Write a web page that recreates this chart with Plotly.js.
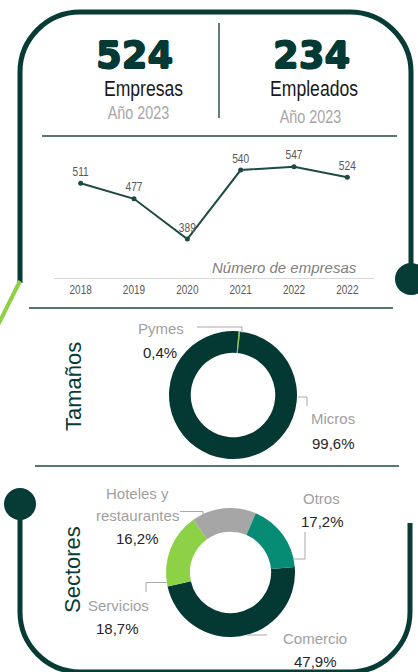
<!DOCTYPE html>
<html>
<head>
<meta charset="utf-8">
<script src="https://cdn.plot.ly/plotly-3.0.1.min.js"></script>
<style>html,body{margin:0;padding:0;background:#fff;}#chart{width:418px;height:672px;}</style>
</head>
<body>
<div id="chart"></div>
<script>
// ---- data ----
const kpiValues = ["524", "234"];
const kpiNames = ["Empresas", "Empleados"];
const kpiYear = "Año 2023";

const years = ["2018", "2019", "2020", "2021", "2022", "2022"];
const empresas = [511, 477, 389, 540, 547, 524];
const lineTitle = "Número de empresas";

const tamanosTitle = "Tamaños";
const tamanosLabels = ["Pymes", "Micros"];
const tamanosValues = [0.4, 99.6];

const sectoresTitle = "Sectores";
const sectoresLabels = ["Comercio", "Servicios", "Hoteles y restaurantes", "Otros"];
const sectoresValues = [47.9, 18.7, 16.2, 17.2];

// ---- styles ----
const DARK = "#063b36";
const LINE = "#1f4a44";
const GREEN = "#8cd146";
const TEAL = "#068b75";
const GREY = "#a6a6a6";
const SANS = "Liberation Sans, Arial, sans-serif";

const W = 418, H = 672;
const px = v => v / W, py = v => 1 - v / H;
const pct = v => v.toFixed(1).replace(".", ",") + "%";

const traces = [
  {
    type: "scatter", mode: "lines+markers+text",
    x: empresas.map((_, i) => i), y: empresas,
    text: empresas.map(String), textposition: "top center",
    textfont: {family: SANS, size: 13, color: "#595959"},
    line: {color: LINE, width: 2}, marker: {color: LINE, size: 5},
    hoverinfo: "skip", showlegend: false, xaxis: "x", yaxis: "y", cliponaxis: false
  },
  {
    type: "pie", labels: tamanosLabels, values: tamanosValues,
    hole: 0.66, sort: false, direction: "clockwise", rotation: 5,
    marker: {colors: [GREEN, "#043832"], line: {width: 0}},
    textinfo: "none", hoverinfo: "skip", showlegend: false,
    domain: {x: [px(169), px(297)], y: [py(459), py(331)]}
  },
  {
    type: "pie", labels: sectoresLabels, values: sectoresValues,
    hole: 0.63, sort: false, direction: "clockwise", rotation: 85,
    marker: {colors: ["#043832", GREEN, GREY, TEAL], line: {width: 0}},
    textinfo: "none", hoverinfo: "skip", showlegend: false,
    domain: {x: [px(166), px(295)], y: [py(637), py(508)]}
  }
];

const frame = (d, w) => ({type: "path", xref: "x2", yref: "y2", path: d, line: {color: DARK, width: w}, layer: "above"});
const hline = (x0, x1, y) => ({type: "line", xref: "x2", yref: "y2", x0, x1, y0: y, y1: y, line: {color: LINE, width: 1.3}});
const lead = d => ({type: "path", xref: "x2", yref: "y2", path: d, line: {color: "#a9a9a9", width: 1}});
const dot = (cx, cy, r) => ({type: "circle", xref: "x2", yref: "y2", x0: cx - r, x1: cx + r, y0: cy - r, y1: cy + r, fillcolor: DARK, line: {width: 0}});

const shapes = [
  frame("M20,283 L20,72 C20,39 47,12 80,12 L350,12 C383,12 411,39 411,72 L411,270", 5),
  {type: "line", xref: "x2", yref: "y2", x0: 20, y0: 281, x1: -2, y1: 325, line: {color: GREEN, width: 4}},
  dot(411, 279, 16),
  frame("M20,505 L20,612 C20,645 47,672 80,672 L350,672 C383,672 410,645 410,612 L410,523", 5),
  dot(20, 504, 16),
  {type: "line", xref: "x2", yref: "y2", x0: 219, x1: 219, y0: 23, y1: 118, line: {color: DARK, width: 1.3}},
  hline(42, 397, 136), hline(29, 393, 308), hline(35, 399, 466),
  lead("M197,327 L242,327 L242,333"),
  lead("M298,397 L307,397 L307,406"),
  lead("M180,511.5 L203,511.5 L203,515"),
  lead("M293,559 L305,559 L305,532"),
  lead("M167,582.5 L146,582.5 L146,592"),
  lead("M247,635 L267,635")
];

const ann = (text, x, y, font, extra) => Object.assign({text, x, y, xref: "x2", yref: "y2", showarrow: false, xanchor: "center", yanchor: "middle", font}, extra || {});
const bigFont = {family: "DejaVu Sans, sans-serif", size: 37, color: "#053a34", weight: 900,
                 shadow: "0.7px 0 0 #053a34, -0.7px 0 0 #053a34, 0 0.7px 0 #053a34, 0 -0.7px 0 #053a34"};
const nameFont = {family: SANS, size: 22, color: "#1a1a1a"};
const yearFont = {family: SANS, size: 18, color: GREY};
const lblName = {family: SANS, size: 15, color: "#a0a0a0"};
const lblPct = {family: SANS, size: 15, color: "#262626"};
const vTitle = {family: SANS, size: 22, color: DARK};

const annotations = [
  ann("<b>" + kpiValues[0] + "</b>", 134, 55, bigFont),
  ann("<b>" + kpiValues[1] + "</b>", 311.5, 55, bigFont),
  ann(kpiNames[0], 143, 88, nameFont),
  ann(kpiNames[1], 314, 88, nameFont),
  ann(kpiYear, 138.5, 113, yearFont),
  ann(kpiYear, 310.5, 117, yearFont),
  ann("<i>" + lineTitle + "</i>", 284, 267, {family: SANS, size: 15, color: "#808080"}),
  ann(tamanosTitle, 73, 387, vTitle, {textangle: -90}),
  ann(sectoresTitle, 72, 570, vTitle, {textangle: -90}),
  ann(tamanosLabels[0], 161, 328, lblName), ann(pct(tamanosValues[0]), 159.5, 352, lblPct),
  ann(tamanosLabels[1], 333, 418, lblName), ann(pct(tamanosValues[1]), 333, 443, lblPct),
  ann(sectoresLabels[0], 315, 638, lblName), ann(pct(sectoresValues[0]), 315, 661.5, lblPct),
  ann(sectoresLabels[1], 118, 605, lblName), ann(pct(sectoresValues[1]), 117, 628, lblPct),
  ann(sectoresLabels[2].split(" restaurantes")[0], 137, 493, lblName),
  ann("restaurantes", 137, 515, lblName),
  ann(pct(sectoresValues[2]), 137, 538, lblPct),
  ann(sectoresLabels[3], 321.5, 498, lblName), ann(pct(sectoresValues[3]), 322, 521.5, lblPct)
];

const layout = {
  width: W, height: H, margin: {l: 0, r: 0, t: 0, b: 0},
  paper_bgcolor: "#fff", plot_bgcolor: "rgba(0,0,0,0)", showlegend: false,
  xaxis: {domain: [px(54), px(374)], range: [-0.5, 5.5], tickvals: empresas.map((_, i) => i), ticktext: years,
          showgrid: false, zeroline: false, showline: true, linecolor: "#d9d9d9", linewidth: 1, ticks: "",
          tickfont: {family: SANS, size: 12.5, color: "#595959"}, fixedrange: true, anchor: "y"},
  yaxis: {domain: [py(278.3), py(150)], range: [302.9, 583.9], visible: false, fixedrange: true, anchor: "x"},
  xaxis2: {domain: [0, 1], range: [0, W], visible: false, fixedrange: true, anchor: "y2"},
  yaxis2: {domain: [0, 1], range: [H, 0], visible: false, fixedrange: true, anchor: "x2"},
  shapes, annotations
};

// Condensed (Arial Narrow-like) look for texts drawn in a narrow face in the original
function condense(el, f) {
  const len = el.getComputedTextLength();
  if (len > 0) {
    el.setAttribute("textLength", (len * f).toFixed(2));
    el.setAttribute("lengthAdjust", "spacingAndGlyphs");
  }
}

Plotly.newPlot("chart", traces, layout, {staticPlot: true, displayModeBar: false}).then(gd => {
  [2, 3, 4, 5].forEach(i => {
    gd.querySelectorAll('.annotation[data-index="' + i + '"] text').forEach(t => condense(t, 0.8));
  });
  gd.querySelectorAll(".xtick text").forEach(t => condense(t, 0.8));
  gd.querySelectorAll(".textpoint text").forEach(t => condense(t, 0.78));
});
</script>
</body>
</html>
